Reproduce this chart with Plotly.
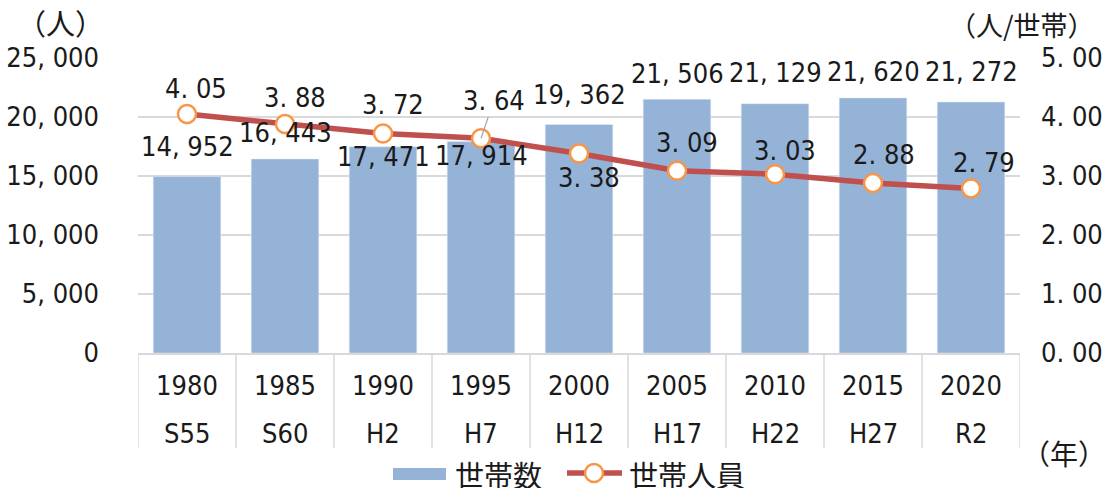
import plotly.graph_objects as go

years = ["1980", "1985", "1990", "1995", "2000", "2005", "2010", "2015", "2020"]
eras = ["S55", "S60", "H2", "H7", "H12", "H17", "H22", "H27", "R2"]
households = [14952, 16443, 17471, 17914, 19362, 21506, 21129, 21620, 21272]
persons_per_household = [4.05, 3.88, 3.72, 3.64, 3.38, 3.09, 3.03, 2.88, 2.79]
left_ticks = [0, 5000, 10000, 15000, 20000, 25000]
right_ticks = [0, 1, 2, 3, 4, 5]

# label offsets (style only, pixels)
bar_label_dy = [30, 26, -10, -14, 30, 26, 31, 26, 30]
line_label_dy = [26, 27, 29, None, -24, 28, 24, 29, 26]
line_label_dx = [9, 10, 10, 0, 10, 10, 10, 11, 13]

NUM_FONT = "Liberation Sans Narrow, Arial Narrow, DejaVu Sans Condensed, Noto Sans CJK JP"
JP_FONT = "Noto Sans CJK JP"
FS = 27
JFS = 29
BAR_COLOR = "#95B3D7"
LINE_COLOR = "#C0504D"
MARKER_LINE = "#F79646"
GRID = "#D9D9D9"
TXT = "#1a1a1a"
GAP = " "

# plot-area geometry (pixels) for paper-coordinate helpers
L, R, T, B = 138, 1020, 58, 353


def px(xp):
    return (xp - L) / (R - L)


def py(yp):
    return (B - yp) / (B - T)


def fmt_int(v):
    return f"{v:,}".replace(",", "," + GAP)


def fmt_dec(v):
    return f"{v:.2f}".replace(".", "." + GAP)


fig = go.Figure()
fig.add_trace(go.Bar(
    x=years, y=households, name="世帯数", marker_color=BAR_COLOR,
    showlegend=False, yaxis="y",
))
fig.add_trace(go.Scatter(
    x=years, y=persons_per_household, name="世帯人員", mode="lines+markers",
    line=dict(color=LINE_COLOR, width=5.5),
    marker=dict(size=18, color="white", line=dict(color=MARKER_LINE, width=2.5)),
    showlegend=False, yaxis="y2",
))

ann = []
for i, v in enumerate(households):
    ann.append(dict(x=i, y=v, xref="x", yref="y", text=fmt_int(v), showarrow=False,
                    yshift=bar_label_dy[i], font=dict(family=NUM_FONT, size=FS, color=TXT)))
for i, v in enumerate(persons_per_household):
    if line_label_dy[i] is None:
        ann.append(dict(x=i, y=v, xref="x", yref="y2", text=fmt_dec(v), showarrow=True,
                        arrowhead=0, arrowcolor="#A6A6A6", arrowwidth=1.2, ax=13, ay=-38,
                        standoff=0,
                        font=dict(family=NUM_FONT, size=FS, color=TXT)))
    else:
        ann.append(dict(x=i, y=v, xref="x", yref="y2", text=fmt_dec(v), showarrow=False,
                        yshift=line_label_dy[i], xshift=line_label_dx[i],
                        font=dict(family=NUM_FONT, size=FS, color=TXT)))
for i, e in enumerate(eras):
    ann.append(dict(x=i, y=py(433), xref="x", yref="paper", text=e, showarrow=False,
                    yanchor="middle", font=dict(family=NUM_FONT, size=FS, color=TXT)))

units = [
    ("（人）", 60, 22, JFS),
    ("（人/世帯）", 1022, 24, 27),
    ("（年）", 1064, 453, 28),
]
for t, xp, yp, fs in units:
    ann.append(dict(x=px(xp), y=py(yp), xref="paper", yref="paper", text=t, showarrow=False,
                    xanchor="center", yanchor="middle",
                    font=dict(family=JP_FONT, size=fs, color=TXT)))

# category dividers below axis
shapes = []
n = len(years)
for k in range(n + 1):
    shapes.append(dict(type="line", xref="x", yref="paper", x0=k - 0.5, x1=k - 0.5,
                       y0=0, y1=py(448), line=dict(color=GRID, width=1.5)))

# manual legend
shapes.append(dict(type="rect", xref="paper", yref="paper",
                   x0=px(393), x1=px(446), y0=py(480), y1=py(468),
                   fillcolor=BAR_COLOR, line=dict(width=0)))
shapes.append(dict(type="line", xref="paper", yref="paper",
                   x0=px(567), x1=px(622), y0=py(473), y1=py(473),
                   line=dict(color=LINE_COLOR, width=5.5)))
shapes.append(dict(type="circle", xref="paper", yref="paper",
                   x0=px(585), x1=px(603), y0=py(482), y1=py(464),
                   fillcolor="white", line=dict(color=MARKER_LINE, width=2.5)))
ann.append(dict(x=px(453), y=py(474), xref="paper", yref="paper",
                text="世帯数", showarrow=False, xanchor="left", yanchor="middle",
                font=dict(family=JP_FONT, size=JFS, color=TXT)))
ann.append(dict(x=px(627), y=py(474), xref="paper", yref="paper",
                text="世帯人員", showarrow=False, xanchor="left", yanchor="middle",
                font=dict(family=JP_FONT, size=JFS, color=TXT)))

fig.update_layout(
    width=1103, height=488,
    margin=dict(l=L, r=1103 - R, t=T, b=488 - B, autoexpand=False),
    paper_bgcolor="white", plot_bgcolor="white",
    bargap=0.31,
    showlegend=False,
    font=dict(family=NUM_FONT, size=FS, color=TXT),
    xaxis=dict(type="category", categoryorder="array", categoryarray=years,
               range=[-0.5, n - 0.5], autorange=False,
               showline=True, linecolor=GRID, linewidth=1.5,
               ticks="", tickfont=dict(family=NUM_FONT, size=FS), ticklabelstandoff=8,
               showgrid=False, fixedrange=True),
    yaxis=dict(range=[0, 25000], tickvals=left_ticks,
               ticktext=[fmt_int(v) for v in left_ticks],
               showgrid=True, gridcolor=GRID, gridwidth=1.5, zeroline=False,
               ticks="", ticklabelstandoff=38, tickfont=dict(family=NUM_FONT, size=FS)),
    yaxis2=dict(range=[0, 5], overlaying="y", side="right", tickvals=right_ticks,
                ticktext=[fmt_dec(v) for v in right_ticks], showgrid=False,
                zeroline=False, ticks="", ticklabelstandoff=20,
                tickfont=dict(family=NUM_FONT, size=FS)),
    annotations=ann,
    shapes=shapes,
)

fig.write_html("out.html", config={"displayModeBar": False},
               post_script="document.body.style.margin='0';document.body.style.padding='0';")
